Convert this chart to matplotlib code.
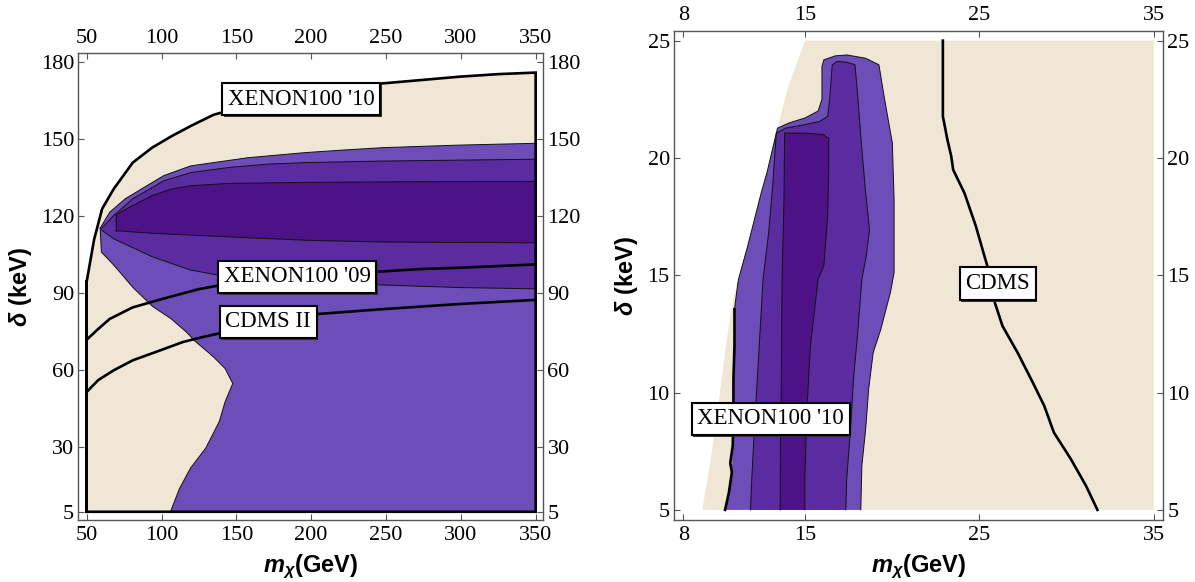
import matplotlib
matplotlib.use('Agg')
import matplotlib.pyplot as plt
import matplotlib.patheffects as pe

plt.rcParams['font.family'] = ['Liberation Serif', 'DejaVu Serif']
plt.rcParams['mathtext.fontset'] = 'custom'
plt.rcParams['mathtext.it'] = 'Liberation Sans:italic:bold'
plt.rcParams['mathtext.rm'] = 'Liberation Sans:bold'
plt.rcParams['mathtext.bf'] = 'Liberation Sans:bold'

# ---------------- left panel data (m_chi in GeV, delta in keV) ----------------
xen10_m = [50, 55, 60.3, 68, 80.8, 93.7, 106.5, 119.4, 134.8, 150, 175, 200, 225, 247.8, 273.5, 299, 325, 350]
xen10_d = [94.5, 111, 122.8, 130.5, 140.8, 146.6, 151, 155, 159.4, 161.8, 165.2, 168.2, 170.2, 171.6, 172.9, 174.2, 175.2, 175.8]
xen10_mmin, xen10_mmax, delta_min = 50, 350, 5

l1_up_m = [59, 65.4, 75.7, 88.5, 101.4, 119.4, 134.8, 157.9, 196.4, 222, 247.8, 299, 350]
l1_up_d = [115.3, 121.5, 126.7, 131.2, 135.7, 139.5, 140.8, 142.7, 144.7, 145.7, 146.6, 147.6, 148.3]
l1_lo_m = [106, 112, 119.4, 129.6, 138.6, 142.5, 147.6, 142.5, 134.8, 121.9, 116.8, 106.5, 93.7, 80.8, 68, 59.8, 59]
l1_lo_d = [5, 14, 22, 29.8, 40.1, 47.8, 54.9, 60.7, 65.2, 71.6, 74.8, 80, 85, 92.3, 101, 106, 115.3]

l2_up_m = [60, 68, 80.8, 101.4, 119.4, 145, 170.7, 196.4, 247.8, 350]
l2_up_d = [115.3, 120.2, 126.7, 133.7, 136.9, 138.9, 140.2, 140.8, 141.4, 142.1]
l2_lo_m = [60, 68, 93.7, 119.4, 137.3, 200, 247.8, 299, 350]
l2_lo_d = [114.5, 111.2, 104.2, 99, 97.1, 94.6, 93.2, 92.2, 91.7]

l3_up_m = [69.3, 72, 80.8, 93.7, 106.5, 119.4, 145, 196.4, 247.8, 350]
l3_up_d = [120.2, 121.3, 124.1, 128, 130.5, 131.8, 132.7, 133.1, 133.3, 133.5]
l3_lo_m = [69.3, 93.7, 145, 196.4, 247.8, 350]
l3_lo_d = [114.3, 113.3, 111.9, 110.6, 109.9, 109.6]

xen09_m = [50, 57.7, 65.4, 80.8, 103.9, 124.4, 139.9, 190, 245.2, 273.5, 299, 350]
xen09_d = [71.9, 76.1, 80, 84.5, 88.3, 91.5, 93.2, 96.5, 98.4, 99.4, 99.9, 101.2]
cdms2_m = [50, 57.7, 68, 80.8, 98.8, 114.2, 127.1, 137.3, 170, 204.1, 247.8, 299, 350]
cdms2_d = [51.6, 56.2, 60, 63.9, 67.7, 71, 72.9, 74.2, 78.5, 81.9, 83.8, 85.8, 87.4]

left_labels = ["XENON100 '10", "XENON100 '09", "CDMS II"]
left_label_m = [193.2, 190.6, 171.3]
left_label_d = [165.5, 96.4, 78.9]
left_xticks = [50, 100, 150, 200, 250, 300, 350]
left_yticks = [5, 30, 60, 90, 120, 150, 180]

# ---------------- right panel data ----------------
beige_edge_m = [9.09, 9.53, 9.96, 10.45, 10.84, 11.16, 11.7, 12.47, 12.8, 13.41, 14.0, 15.0]
beige_edge_d = [5, 6.9, 9.15, 12, 13.9, 14.8, 16.25, 18.5, 19.36, 21.27, 23.0, 25]
r_mmax, r_dmin, r_dmax = 35, 5, 25

r1_m = [10.4, 10.62, 10.79, 10.84, 10.88, 10.88, 10.94, 10.94, 11.16, 11.7, 12.47, 12.8, 13.41,
        14.1, 14.98, 15.74, 15.96, 15.96, 16.07, 16.72, 17.38, 18.47, 19.23,
        19.56, 20.0, 20.1, 20.1, 19.9, 19.34, 18.9, 18.64, 18.47, 18.25, 18.19]
r1_d = [5, 5.74, 6.6, 7.73, 9.15, 10.57, 11.99, 13.55, 14.8, 16.25, 18.5, 19.36, 21.27,
        21.5, 21.7, 22.0, 22.5, 23.9, 24.18, 24.35, 24.39, 24.25, 23.97,
        22.48, 20.64, 18.23, 15.11, 14.3, 12.7, 11.7, 10.14, 8.44, 6.88, 5]

r2_m = [11.86, 11.93, 12.14, 12.36, 12.58, 12.9, 13.13, 13.34,
        13.89, 14.98, 15.85, 16.29, 16.4, 16.55, 16.83, 17.38, 17.86,
        18.03, 18.25, 18.47, 18.69, 18.5, 18.25, 18.03, 17.77, 17.6, 17.38, 17.33]
r2_d = [5, 6.3, 9.15, 11.99, 14.83, 16.8, 18.8, 21.06,
        21.27, 21.42, 21.56, 21.77, 22.48, 23.97, 24.11, 24.08, 23.97,
        22.48, 20.35, 18.51, 16.95, 15.8, 14.83, 12.7, 10.57, 8.44, 6.31, 5]

r3_m = [13.56, 13.58, 13.63, 13.67, 13.78, 13.82, 15.0, 16.07, 16.18, 16.35,
        16.35, 16.29, 16.07, 15.74, 15.3, 15.09, 14.98, 14.98]
r3_d = [5, 7.73, 10.57, 14.83, 18.23, 21.06, 21.06, 20.99, 20.9, 20.85,
        19.65, 17.52, 15.4, 14.83, 11.99, 9.15, 6.31, 5]

rxen10_m = [10.4, 10.62, 10.79, 10.7, 10.84, 10.88, 10.88, 10.94, 10.94]
rxen10_d = [5, 5.74, 6.6, 7.0, 7.73, 9.15, 10.57, 11.99, 13.55]
rcdms_m = [22.9, 22.9, 23.16, 23.38, 23.49, 24.14, 24.79, 25.23, 25.45, 25.88, 26.32, 27.19, 28.06, 28.72, 29.27, 30.25, 31.12, 31.77]
rcdms_d = [25, 21.77, 20.78, 20.07, 19.5, 18.5, 17.1, 15.96, 15.4, 13.84, 12.84, 11.7, 10.43, 9.43, 8.3, 7.16, 6.02, 5]

right_labels = ["CDMS", "XENON100 '10"]
right_label_m = [26.05, 13.02]
right_label_d = [14.64, 8.88]
right_xticks = [8, 15, 25, 35]
right_yticks = [5, 10, 15, 20, 25]

BEIGE = '#EFE6D6'
LIGHT = '#6D4DB7'
MED = '#5A2C9F'
DARK = '#4C1286'
SPINE = '#555555'
THICK = 1.9
THIN = 0.7
SERIF = 'Liberation Serif'

W, H = 1195, 582
fig = plt.figure(figsize=(W / 100, H / 100), dpi=100)
axL = fig.add_axes([78.3 / W, 1 - 520 / H, 465 / W, (520 - 53.3) / H])
axR = fig.add_axes([674 / W, 1 - 520 / H, 489.3 / W, (520 - 31) / H])


def style(ax, xt, yt, xlim, ylim):
    ax.set_xlim(xlim)
    ax.set_ylim(ylim)
    ax.set_xticks(xt, labels=[str(v) for v in xt], fontfamily=SERIF, fontsize=16)
    ax.set_yticks(yt, labels=[str(v) for v in yt], fontfamily=SERIF, fontsize=16)
    ax.tick_params(direction='in', top=True, right=True, labeltop=True, labelright=True,
                   length=4.5, width=0.8, color=SPINE, labelsize=16, pad=3)
    ax.tick_params(axis='x', pad=4)
    for lab in ax.xaxis.get_ticklabels(which='both') + ax.yaxis.get_ticklabels(which='both'):
        lab.set_fontfamily(SERIF)
    for t in ax.xaxis.get_major_ticks() + ax.yaxis.get_major_ticks():
        t.label1.set_fontfamily(SERIF)
        t.label2.set_fontfamily(SERIF)
    for s in ax.spines.values():
        s.set_color(SPINE)
        s.set_linewidth(1.0)


def box(ax, x, y, s):
    t = ax.text(x, y, s, ha='center', va='center', fontsize=16.5, zorder=10,
                family=SERIF,
                bbox=dict(boxstyle='square,pad=0.25', fc='white', ec='black', lw=1.5))
    t.get_bbox_patch().set_path_effects([
        pe.SimplePatchShadow(offset=(1.2, -1.2), shadow_rgbFace='#333333', alpha=1.0),
        pe.Normal()])


# ---- left panel ----
axL.fill([xen10_mmin] + xen10_m + [xen10_mmax, xen10_mmin],
         [delta_min] + xen10_d + [delta_min, delta_min], color=BEIGE, lw=0, zorder=1)
axL.fill(l1_up_m + [350] + l1_lo_m, l1_up_d + [5] + l1_lo_d, color=LIGHT, lw=0, zorder=2)
axL.fill(l2_up_m + l2_lo_m[::-1], l2_up_d + l2_lo_d[::-1], color=MED, lw=0, zorder=3)
axL.fill(l3_up_m + l3_lo_m[::-1], l3_up_d + l3_lo_d[::-1], color=DARK, lw=0, zorder=4)
for mm, dd in [(l1_up_m, l1_up_d), (l1_lo_m, l1_lo_d), (l2_up_m, l2_up_d), (l2_lo_m, l2_lo_d),
               (l3_up_m, l3_up_d), (l3_lo_m, l3_lo_d)]:
    axL.plot(mm, dd, color='#111111', lw=THIN, zorder=5)
axL.plot([l3_up_m[0], l3_lo_m[0]], [l3_up_d[0], l3_lo_d[0]], color='#111111', lw=THIN, zorder=5)
axL.plot([xen10_mmin] + xen10_m + [xen10_mmax, xen10_mmin, xen10_mmin],
         [delta_min] + xen10_d + [delta_min, delta_min, xen10_d[0]], color='black', lw=THICK,
         zorder=6, solid_joinstyle='miter')
axL.plot(xen09_m, xen09_d, color='black', lw=THICK, zorder=6)
axL.plot(cdms2_m, cdms2_d, color='black', lw=THICK, zorder=6)
for s, x, y in zip(left_labels, left_label_m, left_label_d):
    box(axL, x, y, s)
style(axL, left_xticks, left_yticks, (44.4, 355.1), (1.8, 183.3))

# ---- right panel ----
axR.fill(beige_edge_m + [r_mmax, r_mmax], beige_edge_d + [r_dmax, r_dmin], color=BEIGE, lw=0, zorder=1)
axR.fill(r1_m, r1_d, color=LIGHT, lw=0, zorder=2)
axR.fill(r2_m, r2_d, color=MED, lw=0, zorder=3)
axR.fill(r3_m, r3_d, color=DARK, lw=0, zorder=4)
axR.plot(r1_m[7:], r1_d[7:], color='#111111', lw=THIN, zorder=5)
axR.plot(r2_m, r2_d, color='#111111', lw=THIN, zorder=5)
axR.plot(r3_m, r3_d, color='#111111', lw=THIN, zorder=5)
axR.plot(rxen10_m, rxen10_d, color='black', lw=THICK, zorder=6)
axR.plot(rcdms_m, rcdms_d, color='black', lw=THICK, zorder=6)
for s, x, y in zip(right_labels, right_label_m, right_label_d):
    box(axR, x, y, s)
style(axR, right_xticks, right_yticks, (7.47, 35.55), (4.57, 25.41))

# ---- axis labels ----
xlab = r'$m_{\chi}\mathrm{(GeV)}$'
ylab = r'$\delta\ \mathrm{(keV)}$'
fig.text(310.8 / W, 1 - 567 / H, xlab, ha='center', va='center', fontsize=17)
fig.text(918.7 / W, 1 - 567 / H, xlab, ha='center', va='center', fontsize=17)
fig.text(20 / W, 1 - 286.7 / H, ylab, ha='center', va='center', rotation=90, fontsize=17)
fig.text(627 / W, 1 - 275.5 / H, ylab, ha='center', va='center', rotation=90, fontsize=17)

fig.savefig('out.png', dpi=100)
